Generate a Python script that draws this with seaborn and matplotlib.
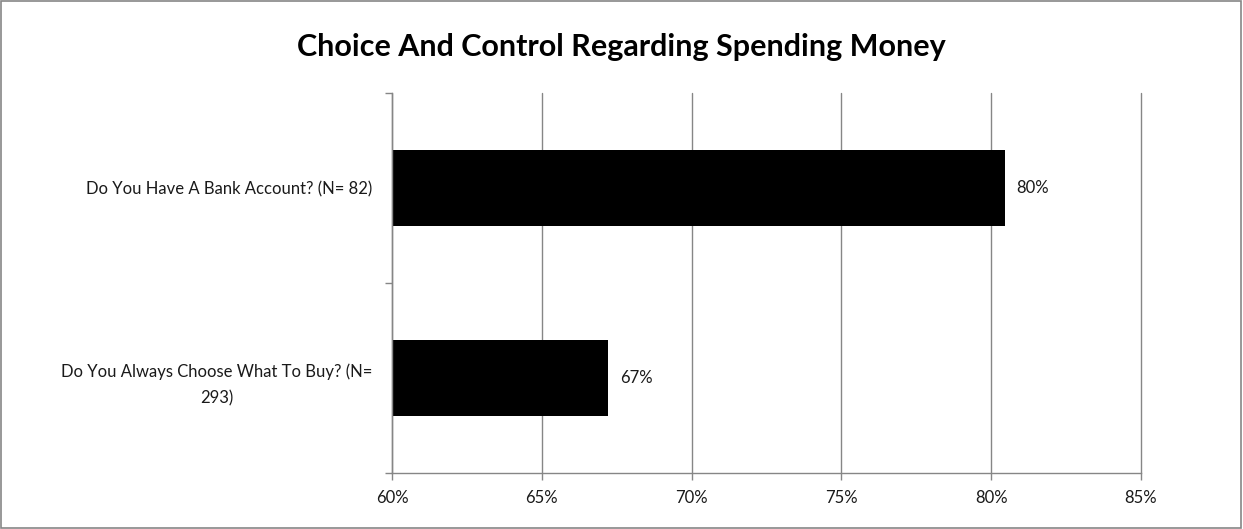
import matplotlib
matplotlib.use("Agg")
import matplotlib.pyplot as plt
import seaborn as sns
import pandas as pd
from matplotlib.ticker import FuncFormatter, MultipleLocator
from matplotlib.patches import Rectangle

categories = ["Do You Have A Bank Account? (N= 82)",
              "Do You Always Choose What To Buy? (N=\n293)"]
values = [80.45, 67.2]
value_labels = ["80%", "67%"]
title = "Choice And Control Regarding Spending Money"

sns.set_theme(style="white")
plt.rcParams['font.family'] = ['Lato', 'DejaVu Sans']

df = pd.DataFrame({"cat": categories, "val": values})

fig = plt.figure(figsize=(12.43, 5.29), dpi=100)
ax = fig.add_axes([392/1243, 1-473/529, (1141-392)/1243, (473-93)/529])

sns.barplot(data=df, y="cat", x="val", orient="h", color="black",
            saturation=1, width=0.395, ax=ax, edgecolor="none")

ax.set_xlim(60, 85)
ax.xaxis.set_major_locator(MultipleLocator(5))
ax.xaxis.set_major_formatter(FuncFormatter(lambda v, p: f"{v:.0f}%"))
ax.set_xlabel("")
ax.set_ylabel("")
ax.grid(axis="x", color="#868686", linewidth=1)
ax.set_axisbelow(True)
for gl in ax.get_xgridlines():
    gl.set_clip_on(False)

for s in ["top", "right"]:
    ax.spines[s].set_visible(False)
for s in ["left", "bottom"]:
    ax.spines[s].set_color("#868686")
    ax.spines[s].set_linewidth(1)

# category boundary ticks on y axis
ax.set_ylim(1.5, -0.5)
ax.set_yticks([-0.5, 0.5, 1.5], minor=True)
ax.set_yticks([0, 1])
ax.set_yticklabels(categories, fontsize=12, multialignment="center",
                   color="#1a1a1a", linespacing=1.8)
ax.tick_params(axis="y", which="major", length=0, pad=14)
ax.tick_params(axis="y", which="minor", length=5, color="#868686", width=1, left=True)
ax.tick_params(axis="x", which="major", length=5, color="#868686", width=1,
               bottom=True, labelsize=12, pad=7, labelcolor="#1a1a1a")

for p, lab in zip(ax.patches, value_labels):
    ax.text(p.get_width() + 0.4, p.get_y() + p.get_height() / 2, lab,
            va="center", ha="left", fontsize=12, color="#1a1a1a")

fig.suptitle(title, fontsize=22, fontweight="bold", x=0.5, y=1 - 47/529,
             va="center", color="black")

fig.patches.append(Rectangle((0.0005, 0.001), 0.998, 0.997, transform=fig.transFigure,
                             fill=False, edgecolor="#868686", linewidth=1.2))

fig.savefig("out.png", dpi=100)
